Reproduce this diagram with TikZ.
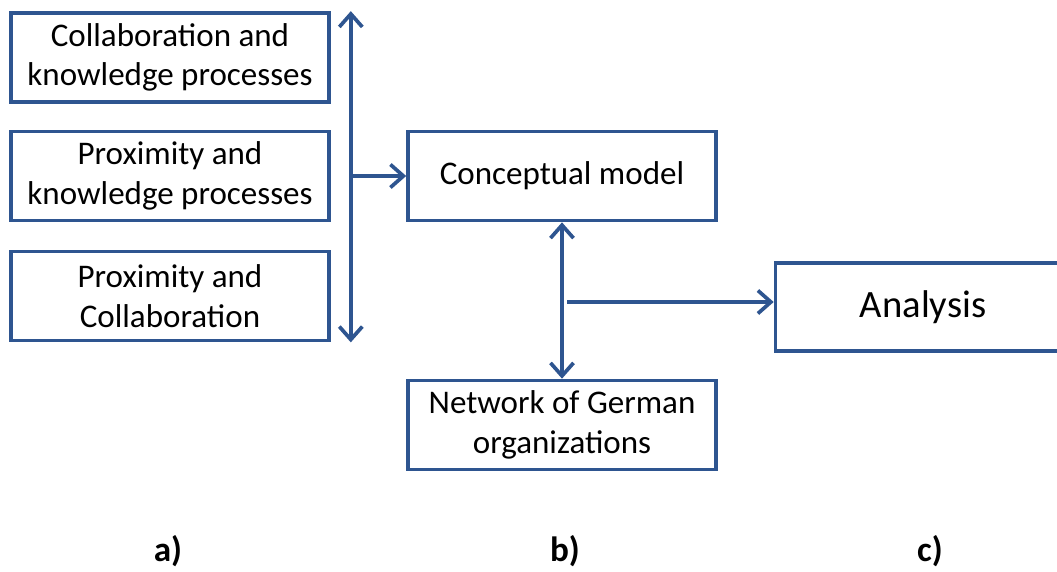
\documentclass[tikz,border=0pt]{standalone}
\usepackage{fontspec}
\setmainfont{Carlito}
\usetikzlibrary{arrows.meta,calc}
\definecolor{boxblue}{HTML}{2E5590}
\begin{document}
\begin{tikzpicture}[x=0.02cm,y=-0.02cm,
  box/.style={draw=boxblue,line width=2.1pt,align=center,inner sep=0pt,
    font=\fontsize{18.8}{22.6}\selectfont,minimum width=6.36cm,minimum height=1.78cm},
  arr/.style={draw=boxblue,line width=2.1pt,-{Straight Barb[length=2.6mm,width=4.6mm,line width=2.1pt]}},
  darr/.style={arr,{Straight Barb[length=2.6mm,width=4.6mm,line width=2.1pt]}-{Straight Barb[length=2.6mm,width=4.6mm,line width=2.1pt]}},
  tag/.style={font=\fontsize{20}{24}\selectfont\bfseries}]
\clip (0,0) rectangle (1057,571);
\node[box] (collab) at (170,57.5) {Collaboration and\\knowledge processes};
\node[box] (proxknow) at (170,176) {Proximity and\\knowledge processes};
\node[box] (proxcoll) at (170,296) {Proximity and\\Collaboration};
\node[box,minimum width=6.16cm] (concept) at (562,176) {Conceptual model};
\node[box,minimum width=6.16cm] (network) at (562,425) {Network of German\\organizations};
\node[box,minimum width=5.9cm,minimum height=1.76cm,font=\fontsize{22}{26}\selectfont] (analysis) at (923,307) {Analysis};
% input side
\coordinate (bartop) at ($(collab.north east)+(20,0)$);
\coordinate (barbot) at ($(proxcoll.south east)+(20,0)$);
\draw[darr] (bartop) -- (barbot);
\draw[arr] (bartop |- concept.west) -- (concept.west);
% model and data
\draw[darr] (concept.south) -- (network.north);
\draw[arr] ($(concept.south |- analysis.west)+(5,-5)$) -- ([yshift=0.1cm]analysis.west);
\node[tag] (lbla) at (168,551) {a)};
\node[tag] (lblb) at (565,551) {b)};
\node[tag] (lblc) at (930,551) {c)};
\end{tikzpicture}
\end{document}
